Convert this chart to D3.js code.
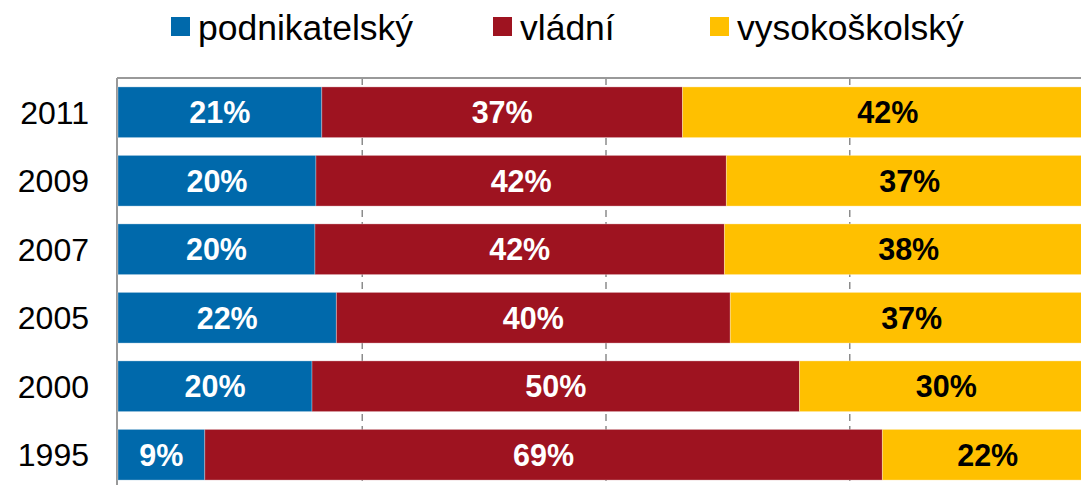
<!DOCTYPE html>
<html>
<head>
<meta charset="utf-8">
<script src="https://cdn.jsdelivr.net/npm/d3@7"></script>
<style>
  html, body { margin: 0; padding: 0; background: #fff; }
  svg { display: block; font-family: "Liberation Sans", Arial, sans-serif; }
</style>
</head>
<body>
<div id="chart"></div>
<script>
// --- data (shares in %) ---
const years = ["2011", "2009", "2007", "2005", "2000", "1995"];
const seriesNames = ["podnikatelský", "vládní", "vysokoškolský"];
const podnikatelsky = [20.9, 20.3, 20.2, 22.4, 19.9, 8.9];
const vladni = [37.0, 42.1, 42.0, 40.4, 50.0, 69.5];
const vysokoskolsky = [42.1, 37.6, 37.8, 37.2, 30.1, 21.6];
const labels = [
    ["21%", "37%", "42%"],
    ["20%", "42%", "37%"],
    ["20%", "42%", "38%"],
    ["22%", "40%", "37%"],
    ["20%", "50%", "30%"],
    ["9%", "69%", "22%"]
];
const gridTicks = [25, 50, 75];

const colors = ["#0069ab", "#9e1320", "#ffc000"];
const labelColors = ["#fff", "#fff", "#000"];

const width = 1081, height = 485;
// plot area runs past the right and bottom edge of the picture
const plot = { left: 118, right: 1093, top: 78, bottom: 489 };

const svg = d3.select("#chart")
    .append("svg")
    .attr("width", width)
    .attr("height", height);

const x = d3.scaleLinear().domain([0, 100]).range([plot.left, plot.right]);
const y = d3.scaleBand().domain(years).range([plot.top, plot.bottom]).paddingInner(0.26).paddingOuter(0.13);

// gridlines
svg.append("g")
    .selectAll("line")
    .data(gridTicks)
    .join("line")
    .attr("x1", d => x(d) + 0.5)
    .attr("x2", d => x(d) + 0.5)
    .attr("y1", plot.top)
    .attr("y2", plot.bottom)
    .attr("stroke", "#8c8c8c")
    .attr("stroke-width", 1.5)
    .attr("stroke-dasharray", "7,5");

// frame (top + left)
svg.append("line")
    .attr("x1", plot.left - 1).attr("x2", plot.right)
    .attr("y1", plot.top).attr("y2", plot.top)
    .attr("stroke", "#999").attr("stroke-width", 2);
svg.append("line")
    .attr("x1", plot.left - 1).attr("x2", plot.left - 1)
    .attr("y1", plot.top).attr("y2", plot.bottom)
    .attr("stroke", "#999").attr("stroke-width", 2);

// stacked data
const rows = years.map((yr, i) => ({
    year: yr,
    values: [podnikatelsky[i], vladni[i], vysokoskolsky[i]],
    labels: labels[i]
}));

const segs = [];
rows.forEach(r => {
    let acc = 0;
    r.values.forEach((v, k) => {
        segs.push({ year: r.year, k, x0: acc, x1: acc + v, label: r.labels[k] });
        acc += v;
    });
});

svg.append("g")
    .selectAll("rect")
    .data(segs)
    .join("rect")
    .attr("x", d => x(d.x0))
    .attr("y", d => y(d.year))
    .attr("width", d => x(d.x1) - x(d.x0))
    .attr("height", y.bandwidth())
    .attr("fill", d => colors[d.k])
    .attr("stroke", "#fff")
    .attr("stroke-opacity", 0.3)
    .attr("stroke-width", 1);

svg.append("g")
    .selectAll("text")
    .data(segs)
    .join("text")
    .attr("x", d => (x(d.x0) + x(d.x1)) / 2)
    .attr("y", d => y(d.year) + y.bandwidth() / 2)
    .attr("dy", "0.36em")
    .attr("text-anchor", "middle")
    .attr("font-size", "30.5px")
    .attr("font-weight", "bold")
    .attr("fill", d => labelColors[d.k])
    .text(d => d.label);

// year labels
svg.append("g")
    .selectAll("text")
    .data(years)
    .join("text")
    .attr("x", 89)
    .attr("y", d => y(d) + y.bandwidth() / 2)
    .attr("dy", "0.36em")
    .attr("text-anchor", "end")
    .attr("font-size", "32px")
    .attr("fill", "#000")
    .text(d => d);

// legend
const legendX = [171, 493, 710];
const legend = svg.append("g")
    .selectAll("g")
    .data(seriesNames)
    .join("g")
    .attr("transform", (d, i) => `translate(${legendX[i]}, 17)`);

legend.append("rect")
    .attr("width", 19)
    .attr("height", 19)
    .attr("fill", (d, i) => colors[i]);

legend.append("text")
    .attr("x", 27)
    .attr("y", 23)
    .attr("font-size", "35.5px")
    .attr("fill", "#000")
    .text(d => d);
</script>
</body>
</html>
